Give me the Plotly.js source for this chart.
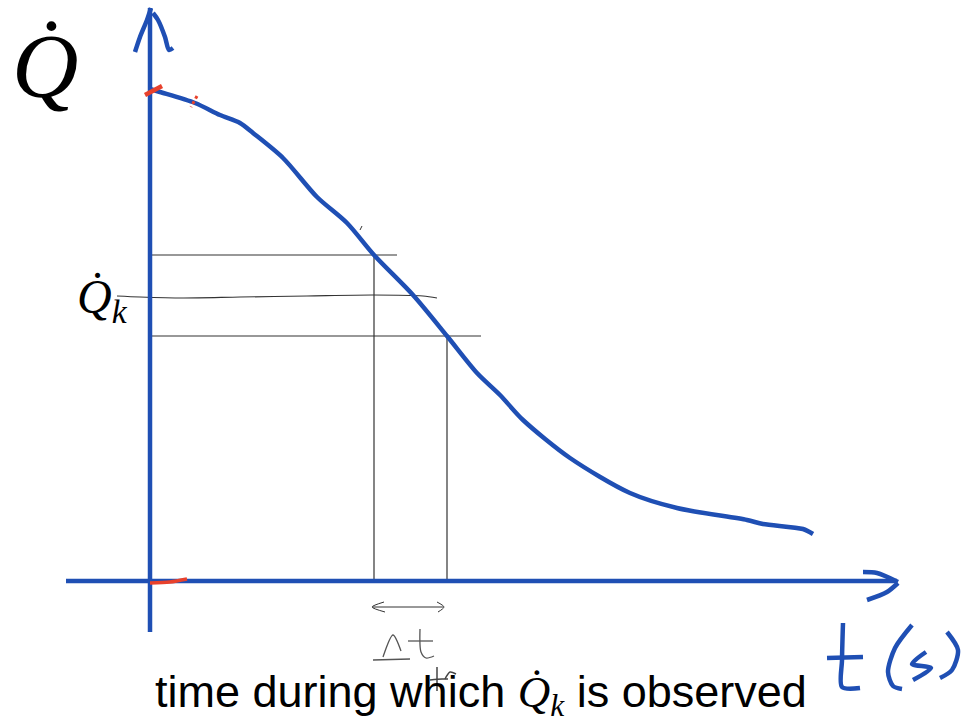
<!DOCTYPE html>
<html>
<head>
<meta charset="utf-8">
<script src="https://cdn.plot.ly/plotly-3.0.1.min.js"></script>
<style>
  html, body { margin: 0; padding: 0; background: #fff; }
  #chart { width: 967px; height: 725px; }
</style>
</head>
<body>
<div id="chart"></div>
<script>
// heat flow curve, t in arbitrary units, Q in arbitrary units
const curveT = [0, 1.0, 4.5, 7.0, 9.0, 10.3, 13.3, 16.7, 19.7, 22.4, 26.3, 29.7,
                32.7, 35.0, 37.3, 42.0, 48.0, 52.7, 59.7, 61.3, 65.3, 66.3];
const curveQ = [49.2, 48.9, 47.8, 46.6, 45.8, 44.8, 42.3, 38.4, 35.8, 32.6, 28.6, 24.5,
                20.8, 18.6, 16.1, 12.3, 8.8, 7.3, 6.1, 5.7, 5.2, 4.7];

// the chosen interval
const tA = 22.4, tB = 29.7;
const qA = 32.6, qB = 24.5;
const qAEnd = 24.7, qBEnd = 33.1;

// hand drawn Qk line
const qkT = [-3.3, -1.0, 3.3, 9.0, 15.7, 22.3, 27.3, 28.7];
const qkQ = [28.5, 28.4, 28.3, 28.4, 28.5, 28.6, 28.5, 28.3];

// axes, drawn by hand
const yAxisT = [0, 0];
const yAxisQ = [-5.1, 57.3];
const yHeadLT = [-1.5, -1.0, -0.3, 0.1];
const yHeadLQ = [52.9, 54.4, 56.1, 57.3];
const yHeadRT = [0.3, 0.8, 1.5, 1.9, 2.3];
const yHeadRQ = [56.8, 56.1, 54.4, 53.1, 53.3];
const xAxisT = [-8.4, 74.7];
const xAxisQ = [0, 0];
const xHeadUT = [71.3, 72.7, 74.8];
const xHeadUQ = [0.9, 0.8, -0.1];
const xHeadDT = [74.8, 73.7, 71.7];
const xHeadDQ = [-0.2, -1.1, -1.9];

// red marks
const red1T = [-0.5, 1.2], red1Q = [48.6, 49.5];
const red2T = [4.7, 4.1], red2Q = [48.5, 47.4];
const red3T = [0, 2.0, 3.7], red3Q = [-0.2, -0.1, 0.2];

// delta t arrow
const dtLineT = [22.3, 29.3], dtLineQ = [-2.6, -2.6];
const dtHeadLT = [23.4, 22.2, 23.5], dtHeadLQ = [-2.1, -2.6, -3.1];
const dtHeadRT = [28.7, 29.4, 28.8], dtHeadRQ = [-2.1, -2.6, -3.1];

// handwritten "Δt" and stray mark
const deltaBaseT = [22.3, 26.0], deltaBaseQ = [-7.9, -7.8];
const deltaSideT = [23.3, 24.3, 25.1], deltaSideQ = [-7.6, -5.4, -7.0];
const smallTStemT = [27.0, 27.1, 27.6, 28.4], smallTStemQ = [-4.8, -7.1, -7.7, -7.5];
const smallTBarT = [25.8, 28.3], smallTBarQ = [-6.0, -6.0];
const strayAT = [28.7, 28.7], strayAQ = [-8.6, -11.0];
const strayBT = [28.0, 29.2, 29.8], strayBQ = [-9.9, -9.8, -9.8];
const strayCT = [29.5, 30.0, 30.6], strayCQ = [-9.8, -9.1, -9.3];
const tickT = [21.0, 21.2], tickQ = [35.1, 35.5];

// handwritten "t (s)"
const tsStemT = [69.3, 69.2, 69.2, 71.0], tsStemQ = [-4.2, -7.9, -10.6, -10.7];
const tsBarT = [67.7, 71.3], tsBarQ = [-7.7, -7.6];
const tsOpenT = [76.2, 74.5, 73.8, 74.3, 75.2], tsOpenQ = [-4.4, -6.7, -9.1, -10.5, -10.8];
const tsST = [77.6, 76.2, 78.1, 76.3], tsSQ = [-7.1, -8.3, -8.7, -9.9];
const tsCloseT = [79.7, 80.8, 80.2, 79.0], tsCloseQ = [-5.1, -6.9, -8.9, -9.7];

const BLUE = '#1f4fb4';
const RED = '#e8412c';
const INK = '#333';

function stroke(x, y, color, width, extra) {
    return Object.assign({
        x: x, y: y, mode: 'lines', hoverinfo: 'skip', showlegend: false,
        line: { color: color, width: width, shape: 'spline', smoothing: 0.8 }
    }, extra || {});
}

function drawChart() {
    const chartDiv = document.getElementById('chart');

    const traces = [
        // thin construction lines
        stroke([0, qAEnd], [qA, qA], INK, 1.2),
        stroke([0, qBEnd], [qB, qB], INK, 1.2),
        stroke(qkT, qkQ, INK, 1.2),
        stroke([tA, tA], [0, qA], INK, 1.2),
        stroke([tB, tB], [0, qB], INK, 1.2),
        stroke(tickT, tickQ, INK, 1),
        stroke(dtLineT, dtLineQ, INK, 1),
        stroke(dtHeadLT, dtHeadLQ, INK, 1),
        stroke(dtHeadRT, dtHeadRQ, INK, 1),
        stroke(deltaBaseT, deltaBaseQ, '#555', 1.3),
        stroke(deltaSideT, deltaSideQ, '#555', 1.3),
        stroke(smallTStemT, smallTStemQ, '#555', 1.3),
        stroke(smallTBarT, smallTBarQ, '#555', 1.3),
        stroke(strayAT, strayAQ, '#444', 1.5),
        stroke(strayBT, strayBQ, '#444', 1.5),
        stroke(strayCT, strayCQ, '#444', 1.5),
        // axes
        stroke(yAxisT, yAxisQ, BLUE, 4.5),
        stroke(yHeadLT, yHeadLQ, BLUE, 4.5),
        stroke(yHeadRT, yHeadRQ, BLUE, 4.5),
        stroke(xAxisT, xAxisQ, BLUE, 4.5),
        stroke(xHeadUT, xHeadUQ, BLUE, 4.5),
        stroke(xHeadDT, xHeadDQ, BLUE, 4.5),
        // curve
        stroke(curveT, curveQ, BLUE, 4.5),
        // red marks
        stroke(red1T, red1Q, RED, 4.5),
        stroke(red2T, red2Q, RED, 3, { line: { color: RED, width: 3, dash: 'dot' } }),
        stroke(red3T, red3Q, RED, 3.5),
        // t (s)
        stroke(tsStemT, tsStemQ, BLUE, 4.5),
        stroke(tsBarT, tsBarQ, BLUE, 4.5),
        stroke(tsOpenT, tsOpenQ, BLUE, 4.5),
        stroke(tsST, tsSQ, BLUE, 4.5),
        stroke(tsCloseT, tsCloseQ, BLUE, 4.5)
    ];

    const serif = '"Liberation Serif", "DejaVu Serif", serif';

    Plotly.newPlot(chartDiv, traces, {
        width: 967,
        height: 725,
        margin: { l: 0, r: 0, t: 0, b: 0 },
        paper_bgcolor: '#fff',
        plot_bgcolor: '#fff',
        xaxis: { range: [-15, 81.7], visible: false, fixedrange: true },
        yaxis: { range: [-14.4, 58.1], visible: false, fixedrange: true },
        annotations: [
            {
                x: -10.5, y: 51.5, xref: 'x', yref: 'y', showarrow: false,
                text: '<i>Q̇</i>',
                font: { family: serif, size: 92, color: '#000' }
            },
            {
                x: -4.8, y: 28.1, xref: 'x', yref: 'y', showarrow: false,
                text: '<i>Q̇<sub>k</sub></i>',
                font: { family: serif, size: 48, color: '#000' }
            },
            {
                x: 33.1, y: -11.3, xref: 'x', yref: 'y', showarrow: false,
                text: 'time during which <span style="font-family:Liberation Serif"><i>Q̇<sub>k</sub></i></span> is observed',
                font: { family: '"Liberation Sans", Arial, sans-serif', size: 45, color: '#000' }
            }
        ]
    }, { staticPlot: true });
}

window.addEventListener('load', drawChart);
</script>
</body>
</html>
